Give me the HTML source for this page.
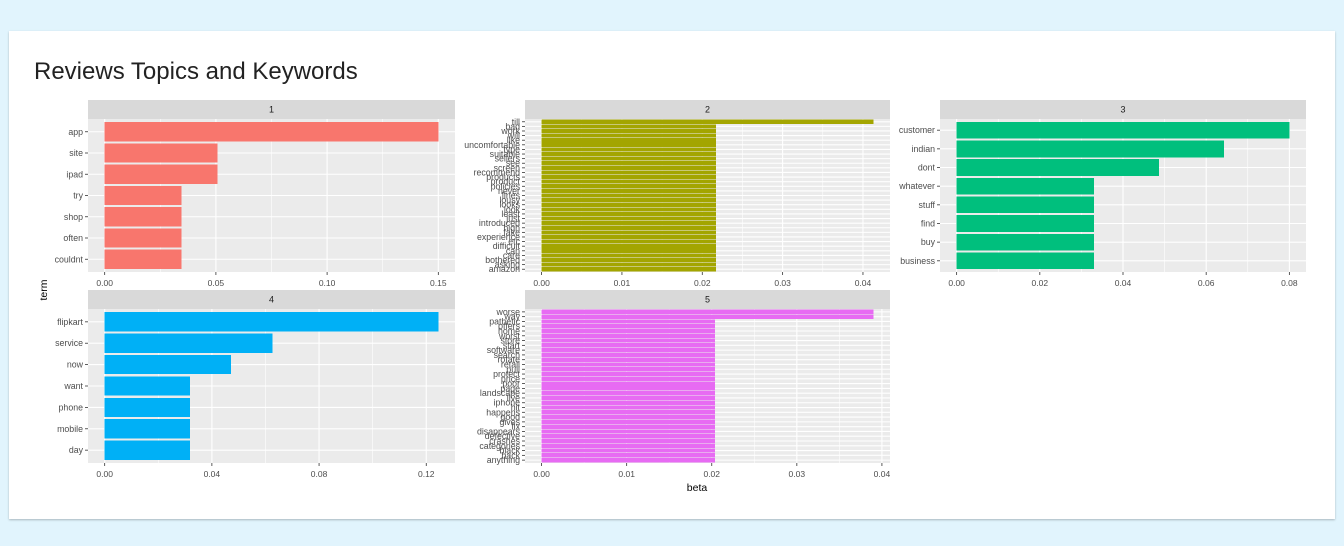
<!DOCTYPE html>
<html><head><meta charset="utf-8">
<style>
body{margin:0;width:1344px;height:546px;background:#e1f4fd;font-family:"Liberation Sans",sans-serif;overflow:hidden}
#card{position:absolute;left:9px;top:31px;width:1326px;height:488px;background:#fff;box-shadow:0 1px 2px rgba(0,0,0,.25)}
#title{position:absolute;left:25px;top:27px;font-size:24px;color:#222}
svg{position:absolute;left:0;top:0}
</style></head><body>
<div id="card"><div id="title">Reviews Topics and Keywords</div></div>
<svg id="chart" width="1344" height="546"></svg>
<script>
const terms1=["app","site","ipad","try","shop","often","couldnt"];
const beta1=[0.150,0.0507,0.0507,0.0345,0.0345,0.0345,0.0345];
const terms2=["till","bad","work","will","like","uncomfortable","type","suitable","sellers","see","screen","recommend","products","product","policies","never","lines","lousy","looks","look","least","just","introduced","high","fake","experience","etc","difficult","can","care","bothered","asking","amazon"];
const beta2=[0.0413].concat(Array(32).fill(0.0217));
const terms3=["customer","indian","dont","whatever","stuff","find","buy","business"];
const beta3=[0.080,0.0643,0.0487,0.033,0.033,0.033,0.033,0.033];
const terms4=["flipkart","service","now","want","phone","mobile","day"];
const beta4=[0.1245,0.0626,0.0472,0.0319,0.0319,0.0319,0.0319];
const terms5=["worse","way","pathetic","offers","home","worst","store","start","software","search","rotate","retail","pull","protect","price","poor","page","landscape","live","iphone","hit","happens","good","gives","fix","disappears","defective","crashes","categories","black","back","anything"];
const beta5=[0.039,0.039].concat(Array(30).fill(0.0204));
const ticks1=[0,0.05,0.10,0.15], tl1=["0.00","0.05","0.10","0.15"];
const ticks2=[0,0.01,0.02,0.03,0.04], tl2=["0.00","0.01","0.02","0.03","0.04"];
const ticks3=[0,0.02,0.04,0.06,0.08], tl3=["0.00","0.02","0.04","0.06","0.08"];
const ticks4=[0,0.04,0.08,0.12], tl4=["0.00","0.04","0.08","0.12"];
const ticks5=ticks2, tl5=tl2;
const NS="http://www.w3.org/2000/svg";
const svg=document.getElementById('chart');
function mk(t,a,p){const e=document.createElementNS(NS,t);for(const k in a)e.setAttribute(k,a[k]);(p||svg).appendChild(e);return e;}
function panel(id,label,terms,vals,ticks,tls,color,x0,x1,y0,y1){
  const g=mk('g',{});
  
  
  const st=mk('rect',{x:x0,y:y0-19,width:x1-x0,height:19,fill:'#d9d9d9'},g);
  
  
  const stt=mk('text',{x:(x0+x1)/2,y:y0-6.5,'font-size':9,'text-anchor':'middle',fill:'#1a1a1a'},g);stt.textContent=label;
  
  
  mk('rect',{x:x0,y:y0,width:x1-x0,height:y1-y0,fill:'#ebebeb'},g);
  const M=Math.max(...vals),dmin=-0.05*M,dmax=1.05*M;
  const X=v=>x0+(v-dmin)/(dmax-dmin)*(x1-x0);
  const n=terms.length,band=(y1-y0)/(n-1+1.2);
  const Y=i=>y0+(0.6+i)*band;
  for(let i=0;i<ticks.length-1;i++){const m=(ticks[i]+ticks[i+1])/2;mk('line',{x1:X(m),x2:X(m),y1:y0,y2:y1,stroke:'#fff','stroke-width':0.6},g);}
  const last=ticks[ticks.length-1],step=ticks[1]-ticks[0];
  if(X(last+step/2)<x1)mk('line',{x1:X(last+step/2),x2:X(last+step/2),y1:y0,y2:y1,stroke:'#fff','stroke-width':0.6},g);
  ticks.forEach((t,i)=>{mk('line',{x1:X(t),x2:X(t),y1:y0,y2:y1,stroke:'#fff','stroke-width':1.1},g);
    mk('line',{x1:X(t),x2:X(t),y1:y1,y2:y1+3,stroke:'#333','stroke-width':0.8},g);
    const tx=mk('text',{x:X(t),y:y1+14,'font-size':8.5,'text-anchor':'middle',fill:'#4d4d4d'},g);tx.textContent=tls[i];
    
    });
  terms.forEach((t,i)=>{mk('line',{x1:x0,x2:x1,y1:Y(i),y2:Y(i),stroke:'#fff','stroke-width':1.1},g);});
  terms.forEach((t,i)=>{
    const b=mk('rect',{x:X(0),y:Y(i)-band*0.45,width:X(vals[i])-X(0),height:band*0.9,fill:color,'shape-rendering':'crispEdges'},g);
    
    
    mk('line',{x1:x0-3,x2:x0,y1:Y(i),y2:Y(i),stroke:'#333','stroke-width':0.8},g);
    const tx=mk('text',{x:x0-5,y:Y(i)+3,'font-size':8.8,'text-anchor':'end',fill:'#4d4d4d'},g);tx.textContent=t;
    
    
  });
}
panel(1,'1',terms1,beta1,ticks1,tl1,'#f8766d',88,455,119,272);
panel(2,'2',terms2,beta2,ticks2,tl2,'#a3a500',525,890,119,272);
panel(3,'3',terms3,beta3,ticks3,tl3,'#00bf7d',940,1306,119,272);
panel(4,'4',terms4,beta4,ticks4,tl4,'#00b0f6',88,455,309,463);
panel(5,'5',terms5,beta5,ticks5,tl5,'#e76bf3',525,890,309,463);
const xt=mk('text',{x:697,y:491,'font-size':10.5,'text-anchor':'middle',fill:'#000'});xt.textContent='beta';


const yt=mk('text',{x:0,y:0,'font-size':10.5,'text-anchor':'middle',fill:'#000',transform:'translate(47,290) rotate(-90)'});yt.textContent='term';


</script>
</body></html>
